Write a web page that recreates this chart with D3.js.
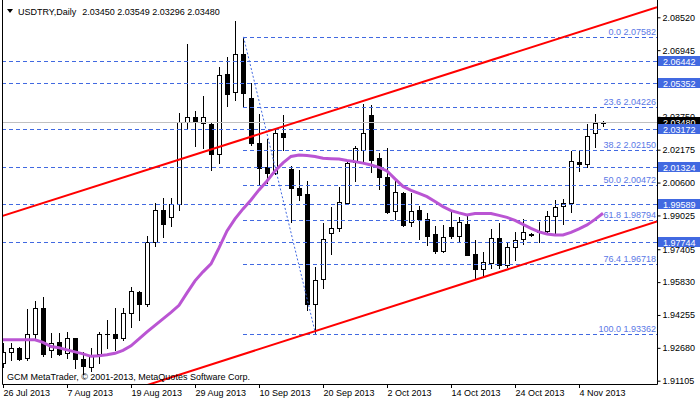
<!DOCTYPE html>
<html><head><meta charset="utf-8">
<script src="https://cdn.jsdelivr.net/npm/d3@7"></script>
<style>
body{margin:0;background:#fff}
svg{display:block}
text{font-family:"Liberation Sans",Arial,sans-serif;font-size:9px}
</style>
</head><body><svg id="c" width="700" height="402"></svg>
<script>
const symbolName = "USDTRY,Daily";
const lastQuote = [2.03450, 2.03549, 2.03296, 2.03480];

const opens = [1.91961,1.92503,1.92665,1.92186,1.93336,1.94581,1.92584,1.92953,1.92440,1.93144,
1.92153,1.91784,1.92378,1.93322,1.93336,1.93173,1.94342,1.95377,1.94802,1.97772,
1.99290,1.98940,1.99563,2.03520,2.03730,2.03443,2.03409,2.01958,2.05790,2.04928,
2.06748,2.04640,2.02485,2.01364,2.01048,2.02964,2.01254,2.00329,2.00042,1.94773,
1.95971,1.98174,1.98413,1.99611,2.01604,2.02164,2.03841,2.01766,2.00856,1.99242,
2.00090,1.98730,1.99290,1.98845,1.98126,1.97341,1.98461,1.98059,1.98619,1.97168,
1.96478,1.96751,1.97934,1.96656,1.97503,1.97887,1.98140,1.98260,1.98284,1.99017,
1.99458,1.99611,2.01604,2.01479,2.02964,2.03450];
const highs = [1.92919,1.92919,1.92742,1.94548,1.94931,1.95123,1.93398,1.93398,1.93461,1.93173,
1.92474,1.92665,1.93461,1.94021,1.94581,1.94581,1.95616,1.95410,1.98059,1.99611,
1.99850,1.99879,2.03922,2.07227,2.04032,2.04751,2.03520,2.06154,2.06633,2.08343,
2.07582,2.05359,2.03874,2.02691,2.03203,2.03841,2.01412,2.01192,2.00679,1.96545,
1.98653,1.99434,2.00392,2.01589,2.02370,2.04353,2.04320,2.02035,2.02245,2.00727,
2.00167,2.00090,1.99482,1.99132,1.98524,1.98572,1.99194,1.98931,1.99098,1.97839,
1.97278,1.98380,1.98653,1.97685,1.98236,1.98873,1.98164,1.98715,1.99242,1.99769,
1.99803,2.02116,2.02116,2.03395,2.03874,2.03549];
const lows = [1.91770,1.92105,1.92105,1.92105,1.93173,1.92311,1.92249,1.92345,1.92186,1.91707,
1.91420,1.91578,1.91947,1.92665,1.92584,1.93063,1.93700,1.94021,1.94706,1.97580,
1.98011,1.98538,1.99290,2.03203,2.02370,2.02274,2.01206,2.01527,2.04286,2.04559,
2.04224,2.02404,2.00521,2.00569,2.01000,2.02164,1.98701,1.99755,1.94500,1.93362,
1.95539,1.97168,1.98284,1.99577,2.00679,2.01604,2.01125,2.00282,1.99146,1.98859,
1.98538,1.98538,1.97887,1.97614,1.97245,1.97293,1.97934,1.97820,1.97111,1.96018,
1.96095,1.96512,1.96512,1.96574,1.96895,1.97637,1.98045,1.97757,1.98188,1.98174,
1.98619,1.99209,2.01158,2.01364,2.02322,2.03296];
const closes = [1.92488,1.92665,1.92153,1.93336,1.94581,1.92407,1.92919,1.92407,1.93159,1.92153,
1.91832,1.92345,1.93336,1.93350,1.93144,1.94342,1.95410,1.94802,1.97772,1.99290,
1.98619,1.99563,2.03491,2.03730,2.03491,2.03730,2.01958,2.05757,2.04861,2.06748,
2.04894,2.02485,2.01287,2.01048,2.02964,2.02801,2.00329,2.00009,1.94773,1.95923,
1.97887,1.98413,1.99688,2.01527,2.02245,2.02964,2.01685,2.00856,1.99209,2.00138,
1.98572,1.99242,1.98845,1.98045,1.97341,1.97997,1.98045,1.98701,1.97135,1.96478,
1.96814,1.97934,1.96656,1.97518,1.97867,1.98251,1.98069,1.98246,1.99017,1.99410,
1.99611,2.01637,2.01479,2.02835,2.03443,2.03480];
const maValues = [1.93063,1.93063,1.93063,1.93063,1.93063,1.92943,1.92742,1.92680,1.92584,1.92488,
1.92392,1.92273,1.92297,1.92345,1.92416,1.92560,1.92776,1.93111,1.93446,1.93758,
1.94069,1.94380,1.94716,1.95314,1.95889,1.96320,1.96703,1.97470,1.98284,1.98859,
1.99338,1.99769,2.00248,2.00679,2.01158,2.01541,2.01853,2.01925,2.01901,2.01853,
2.01766,2.01747,2.01733,2.01661,2.01604,2.01532,2.01446,2.01326,2.01158,2.00775,
2.00416,2.00224,2.00080,1.99927,1.99688,1.99448,1.99257,1.99146,1.99051,1.99113,
1.99113,1.99113,1.99027,1.98931,1.98787,1.98595,1.98404,1.98236,1.98140,1.98092,
1.98092,1.98212,1.98380,1.98572,1.98835,1.99132];

const dateTickIndex = [0,8,16,24,32,40,48,56,64,72];
const dateTickLabels = ["26 Jul 2013","7 Aug 2013","19 Aug 2013","29 Aug 2013","10 Sep 2013",
"20 Sep 2013","2 Oct 2013","14 Oct 2013","24 Oct 2013","4 Nov 2013"];
const priceTicks = [2.08520,2.06945,2.05350,2.03750,2.02175,2.00600,1.99025,1.97405,1.95830,1.94255,1.92680,1.91105];
const hLevels = [2.06442,2.05352,2.03172,2.01324,1.99589,1.97744];
const fibRatios = [0.0,23.6,38.2,50.0,61.8,76.4,100.0];
const fibPrices = [2.07582,2.04226,2.02150,2.00472,1.98794,1.96718,1.93362];
const fibFromBar = 30, fibToBar = 39;
const channelUpper = [[0,1.99007],[75,2.08175]];
const channelLower = [[25,1.91755],[75,1.97906]];
const copyrightText = "GCM MetaTrader, \u00A9 2001-2013, MetaQuotes Software Corp.";

const svg = d3.select("#c");
const L = 2, R = 657, B = 384;
const x = d3.scaleLinear().domain([0, 75]).range([3, 603]);
const y = d3.scaleLinear().domain([1.91105, 2.08520]).range([380.7, 17.3]);
const bars = opens.map((o, i) => ({i, o, h: highs[i], l: lows[i], c: closes[i]}));
const BLUE = "#4169E1";

svg.append("defs").append("clipPath").attr("id", "plot")
  .append("rect").attr("x", L + 1).attr("y", 0).attr("width", R - L - 1).attr("height", B);
const g = svg.append("g").attr("clip-path", "url(#plot)");

// candles
const cg = g.append("g");
const cand = cg.selectAll("g.c").data(bars).join("g").attr("class", "c");
cand.append("line")
  .attr("x1", d => Math.round(x(d.i)) + 0.5).attr("x2", d => Math.round(x(d.i)) + 0.5)
  .attr("y1", d => Math.round(y(d.h))).attr("y2", d => Math.round(y(d.l)) + 1)
  .attr("stroke", "#000");
cand.each(function(d) {
  const cx = Math.round(x(d.i));
  const yt = Math.round(y(Math.max(d.o, d.c))), yb = Math.round(y(Math.min(d.o, d.c)));
  const s = d3.select(this);
  if (yb - yt < 1) {
    s.append("line").attr("x1", cx - 2).attr("x2", cx + 3).attr("y1", yt + 0.5).attr("y2", yt + 0.5).attr("stroke", "#000");
  } else {
    s.append("rect").attr("x", cx - 1.5).attr("y", yt + 0.5).attr("width", 4).attr("height", yb - yt)
      .attr("fill", d.c >= d.o ? "#fff" : "#000").attr("stroke", "#000");
  }
});

// bid line
g.append("line").attr("x1", L).attr("x2", R)
  .attr("y1", Math.round(y(lastQuote[3])) + 0.5).attr("y2", Math.round(y(lastQuote[3])) + 0.5)
  .attr("stroke", "#c0c0c0");

// horizontal levels
g.selectAll("line.h").data(hLevels).join("line").attr("class", "h")
  .attr("x1", L).attr("x2", R)
  .attr("y1", d => Math.round(y(d)) + 0.5).attr("y2", d => Math.round(y(d)) + 0.5)
  .attr("stroke", BLUE).attr("stroke-dasharray", "4,3");

// fibonacci
const fx0 = Math.round(x(fibFromBar));
g.selectAll("line.f").data(fibPrices).join("line").attr("class", "f")
  .attr("x1", fx0).attr("x2", R)
  .attr("y1", d => Math.round(y(d)) + 0.5).attr("y2", d => Math.round(y(d)) + 0.5)
  .attr("stroke", BLUE).attr("stroke-dasharray", "4,3");
g.append("line")
  .attr("x1", x(fibFromBar) + 0.5).attr("y1", y(fibPrices[0]))
  .attr("x2", x(fibToBar) + 0.5).attr("y2", y(fibPrices[fibPrices.length - 1]))
  .attr("stroke", BLUE).attr("stroke-dasharray", "2,2");
g.selectAll("text.f").data(fibPrices).join("text").attr("class", "f")
  .attr("x", 656).attr("y", d => Math.round(y(d)) - 2)
  .attr("text-anchor", "end").attr("fill", "#5a78e6")
  .text((d, i) => fibRatios[i].toFixed(1) + " " + d.toFixed(5));

// channel lines
function chan(pts) {
  const [[i0, p0], [i1, p1]] = pts;
  const f = idx => p0 + (p1 - p0) * (idx - i0) / (i1 - i0);
  const a = x.invert(L), b = x.invert(R);
  return [[L, y(f(a))], [R, y(f(b))]];
}
[channelUpper, channelLower].forEach(c => {
  g.append("path").attr("d", d3.line()(chan(c)))
    .attr("stroke", "#ff0000").attr("stroke-width", 2).attr("fill", "none");
});

// moving average
g.append("path").datum(maValues)
  .attr("d", d3.line().x((d, i) => x(i)).y(d => y(d)))
  .attr("fill", "none").attr("stroke", "#BA55D3").attr("stroke-width", 3);

// copyright
svg.append("text").attr("x", 7).attr("y", 379.5).attr("fill", "#000").text(copyrightText);

// frame
svg.append("path").attr("d", `M${L + 0.5},0V${B + 0.5}H${R + 0.5}V0`).attr("fill", "none").attr("stroke", "#000");

// price axis
const ay = svg.append("g").attr("transform", `translate(${R + 0.5},0)`)
  .call(d3.axisRight(y).tickValues(priceTicks).tickSize(3).tickPadding(2).tickFormat(d3.format(".5f")));
ay.select(".domain").remove();
ay.selectAll("text").attr("font-family", "Liberation Sans, Arial, sans-serif").attr("font-size", 9).attr("fill", "#000");

// time axis
const ax = svg.append("g").attr("transform", `translate(0,${B})`)
  .call(d3.axisBottom(x).tickValues(dateTickIndex).tickSize(4).tickFormat((d, i) => dateTickLabels[i]));
ax.select(".domain").remove();
ax.selectAll("text").attr("text-anchor", "start").attr("dx", 0).attr("y", 6)
  .attr("font-family", "Liberation Sans, Arial, sans-serif").attr("font-size", 9).attr("fill", "#000");

// current price box
const yc = Math.round(y(lastQuote[3]));
svg.append("rect").attr("x", R + 1).attr("y", yc - 5).attr("width", 700 - R - 1).attr("height", 11).attr("fill", "#000");
svg.append("text").attr("x", R + 6).attr("y", yc + 3.5).attr("fill", "#fff").text(lastQuote[3].toFixed(5));

// level boxes
const lb = svg.selectAll("g.lb").data(hLevels).join("g").attr("class", "lb");
lb.append("rect").attr("x", R + 1).attr("y", d => Math.round(y(d)) - 5).attr("width", 700 - R - 1).attr("height", 10).attr("fill", BLUE);
lb.append("text").attr("x", R + 6).attr("y", d => Math.round(y(d)) + 3.5).attr("fill", "#fff").text(d => d.toFixed(5));

// title
svg.append("path").attr("d", "M7,9L13,9L10,13Z").attr("fill", "#000");
const tt = svg.append("text").attr("x", 18).attr("y", 14.5).attr("fill", "#000");
tt.append("tspan").text(symbolName);
tt.append("tspan").attr("dx", 6).text(lastQuote.map(v => v.toFixed(5)).join(" "));
</script>
</body></html>
